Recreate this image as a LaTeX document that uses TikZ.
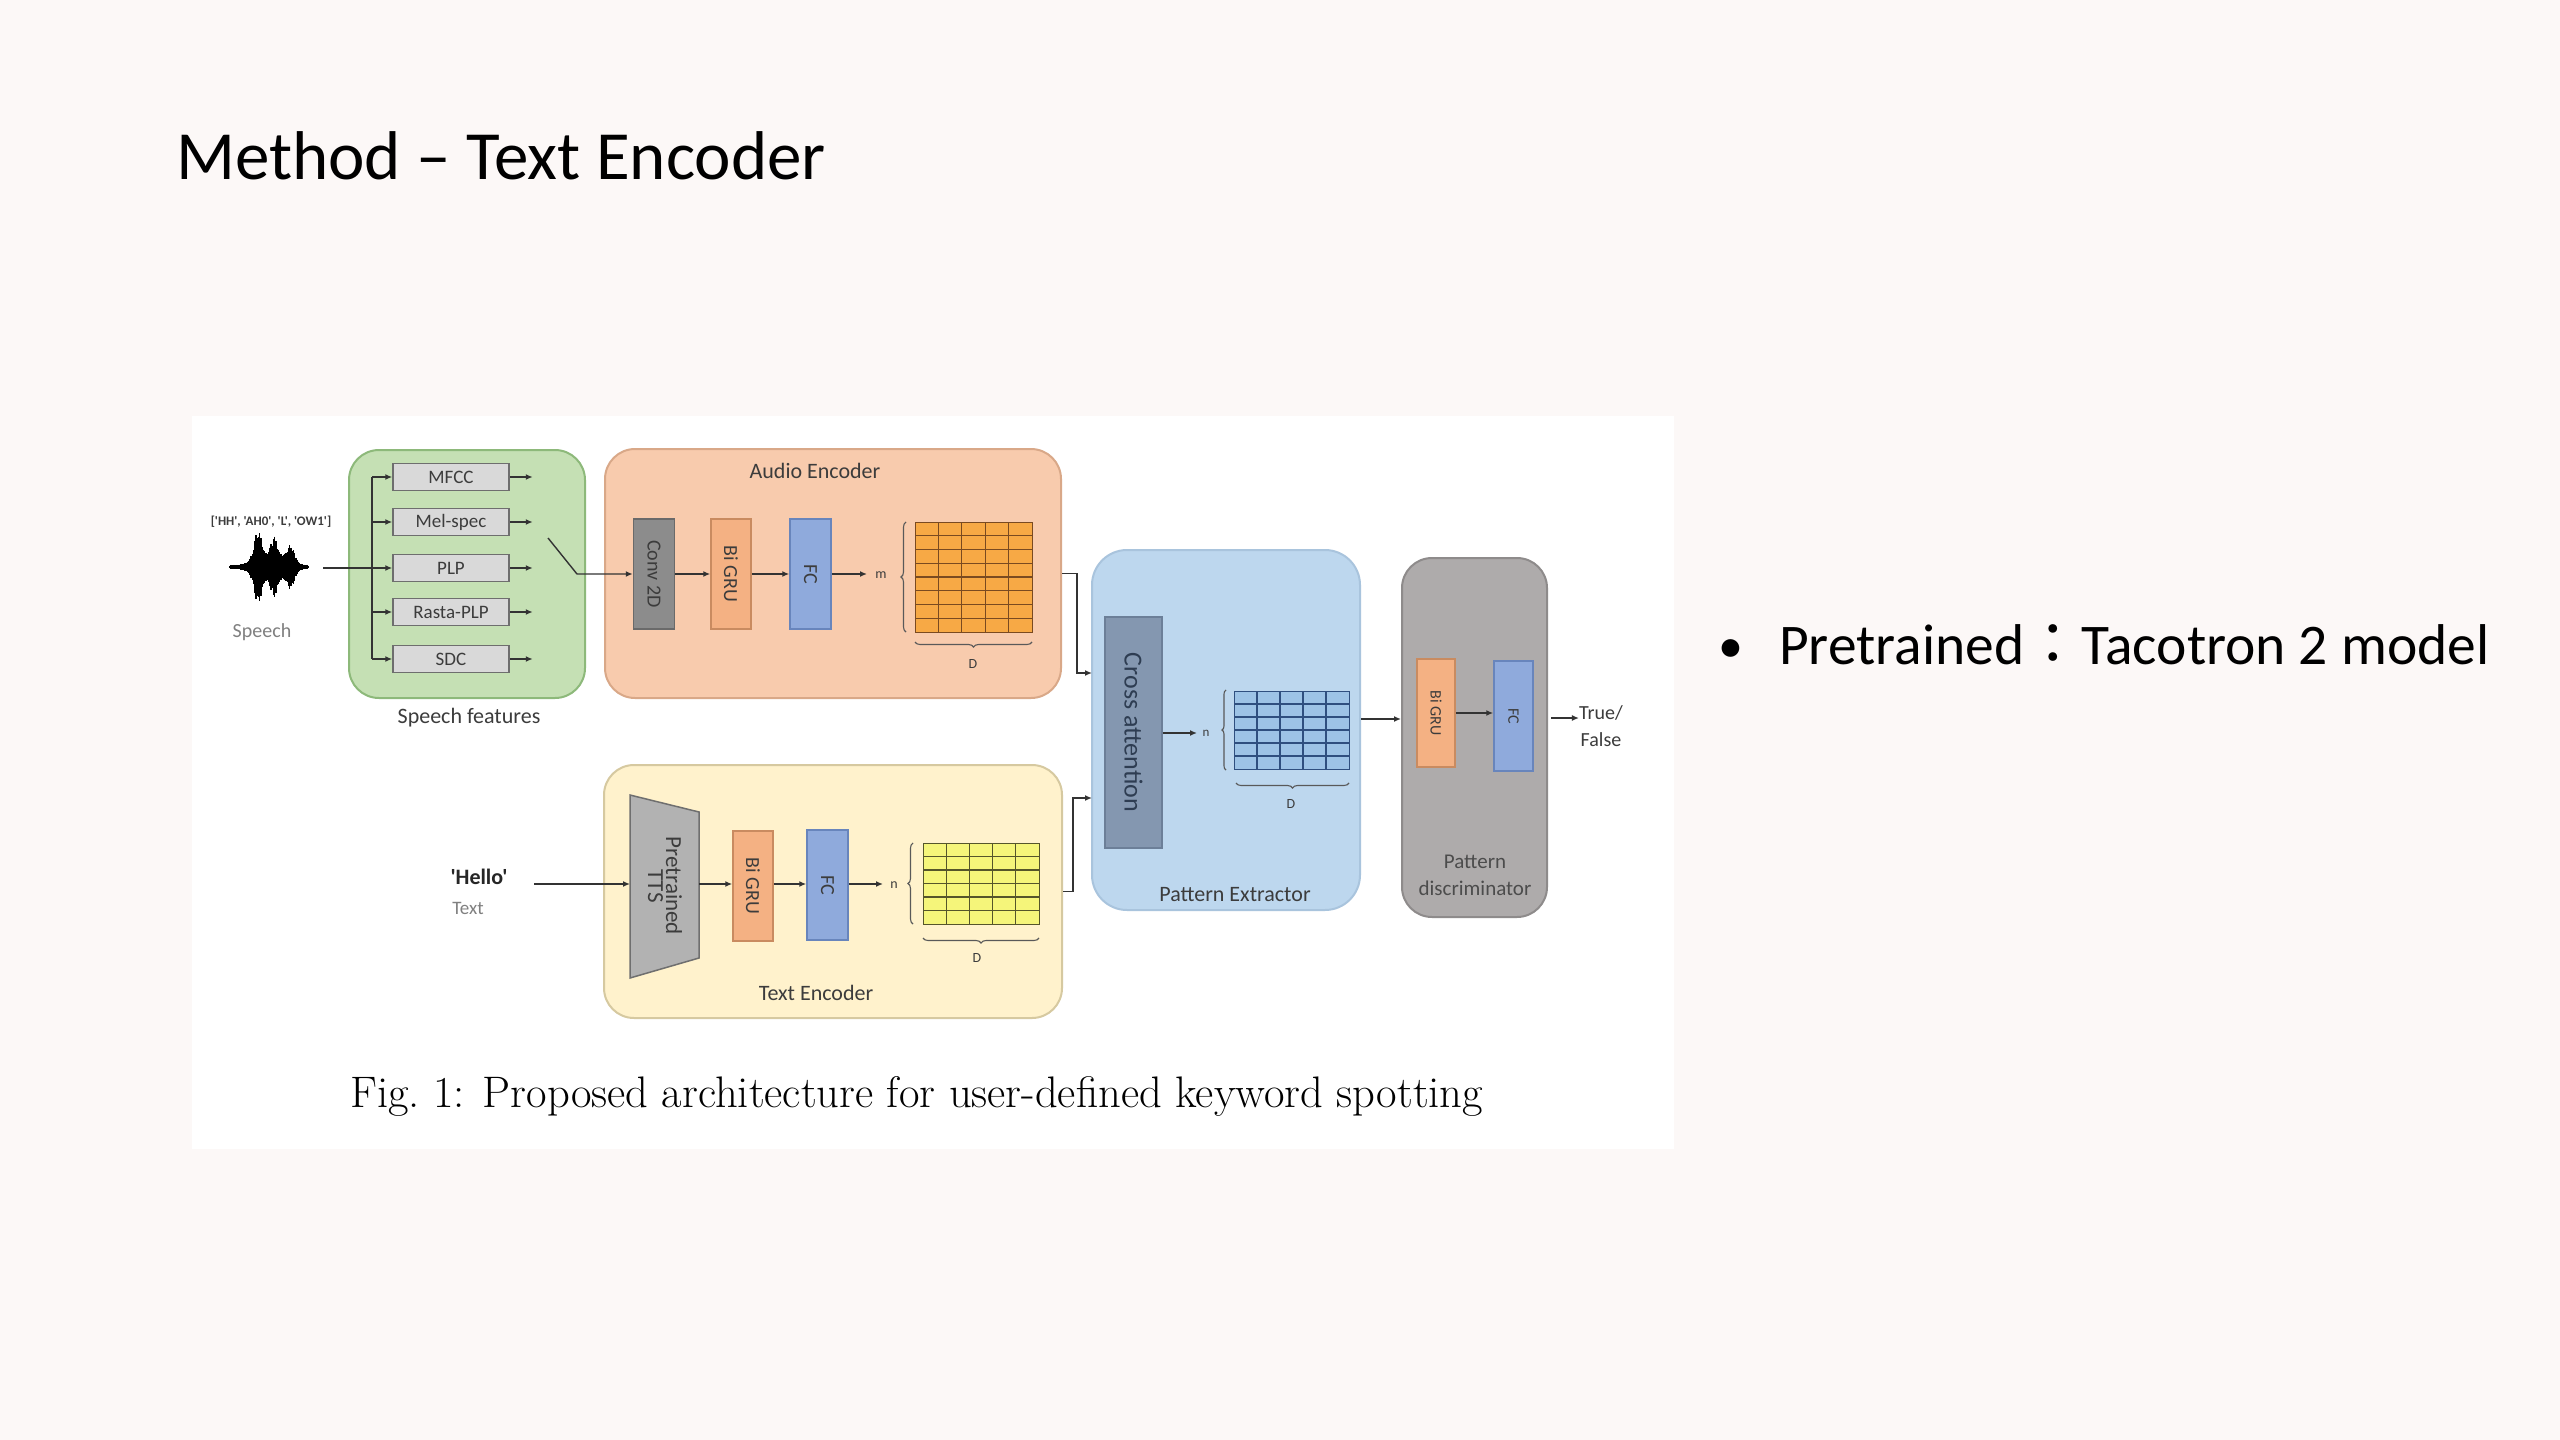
\documentclass[tikz,border=0pt]{standalone}
\usepackage{fontspec}
\usepackage{graphicx}
\newfontfamily\carl{Carlito}
\newfontfamily\cjk{Noto Sans CJK TC}
\usetikzlibrary{arrows.meta,decorations.pathreplacing,calc}
\newcommand\myfs[2]{\fontsize{#1}{#2}\selectfont}
\definecolor{bgc}{HTML}{FCF8F7}
\definecolor{greenF}{HTML}{C5E0B4}
\definecolor{greenD}{HTML}{8DB97A}
\definecolor{featF}{HTML}{D9D9D9}
\definecolor{featD}{HTML}{6E6E6E}
\definecolor{aeF}{HTML}{F8CBAD}
\definecolor{aeD}{HTML}{D9A888}
\definecolor{teF}{HTML}{FFF2CC}
\definecolor{teD}{HTML}{D6C9A0}
\definecolor{peF}{HTML}{BDD7EE}
\definecolor{peD}{HTML}{A9C4DD}
\definecolor{pdF}{HTML}{AEABAB}
\definecolor{pdD}{HTML}{8E8B8B}
\definecolor{convF}{HTML}{8C8C8C}
\definecolor{convD}{HTML}{6A6A6A}
\definecolor{gruF}{HTML}{F4B183}
\definecolor{gruD}{HTML}{C98B60}
\definecolor{fcF}{HTML}{8FAADC}
\definecolor{fcD}{HTML}{6885BC}
\definecolor{caF}{HTML}{8497B0}
\definecolor{caD}{HTML}{6C7F98}
\definecolor{caT}{HTML}{2E3D52}
\definecolor{ttsF}{HTML}{B2B2B2}
\definecolor{ttsD}{HTML}{6F6F6F}
\definecolor{ogF}{HTML}{F7A945}
\definecolor{ogD}{HTML}{7A4A20}
\definecolor{ygF}{HTML}{F5F57A}
\definecolor{ygD}{HTML}{55552A}
\definecolor{bgF}{HTML}{9DC3E6}
\definecolor{bgD}{HTML}{2F4F7F}
\definecolor{txt}{HTML}{3C3C3C}
\definecolor{ltxt}{HTML}{808080}
\begin{document}
\begin{tikzpicture}[x=1pt,y=-1pt,
  group/.style={rounded corners=30pt, line width=2pt, inner sep=0},
  feat/.style={draw=featD, fill=featF, line width=1.5pt, minimum width=116, minimum height=27, inner sep=0, font=\carl\myfs{19}{22}, text=txt},
  blk/.style={line width=1.5pt, inner sep=0, font=\carl\myfs{20}{24}, text=txt},
  lab/.style={inner sep=0, font=\carl\myfs{22}{26}, text=txt},
  sml/.style={inner sep=0, font=\carl\myfs{14}{16}, text=txt},
  arr/.style={-{Latex[length=7pt,width=6pt]}, line width=1.4pt, draw=black!80},
  ln/.style={line width=1.4pt, draw=black!80},
  brc/.style={decorate, decoration={brace, amplitude=5pt}, line width=1.1pt, draw=black!65}
]
\useasboundingbox (0,0) rectangle (2560,1440);
\fill[bgc] (0,0) rectangle (2560,1440);
\fill[white] (192,416) rectangle (1674,1149);

% title and bullet
\node[anchor=base west, inner sep=0, font=\carl\myfs{69}{83}] (title) at (176,179) {Method – Text Encoder};
\node[anchor=base west, inner sep=0, font=\carl\myfs{50}{60}] (bul) at (1718,662) {•};
\node[anchor=base west, inner sep=0, font=\carl\myfs{57.5}{69}] (btxt) at (1779,664) {Pretrained{\cjk ：}Tacotron 2 model};

% caption
\node[anchor=base west, inner sep=0, text=black] (cap) at (350,1107) {\resizebox{1133pt}{31pt}{\myfs{42}{50}Fig.~1: Proposed architecture for user-defined keyword spotting}};

% speech input
\node[inner sep=0, font=\carl\bfseries\myfs{13}{15}, text=txt] (phon) at (271,522) {['HH', 'AH0', 'L', 'OW1']};
\foreach \x in {231,232.25,...,308} {
  \pgfmathsetmacro\ua{abs(\x-258)/5}
  \pgfmathsetmacro\ub{abs(\x-274)/4.5}
  \pgfmathsetmacro\uc{abs(\x-291)/5}
  \pgfmathsetmacro\ud{abs(\x-272)/24}
  \pgfmathsetmacro\a{2+9*exp(-\ud*\ud*\ud*\ud)+(27*exp(-\ua*\ua)+20*exp(-\ub*\ub)+14*exp(-\uc*\uc))*(0.55+0.45*abs(sin(\x*37)))}
  \draw[line width=1.3pt, black] (\x,567-\a) -- (\x,567+\a);
}
\draw[line width=1.2pt, black] (229,567) -- (309,567);
\node[inner sep=0, font=\carl\myfs{20}{24}, text=ltxt] (speech) at (262,632) {Speech};

% speech features
\node[group, draw=greenD, fill=greenF, minimum width=236, minimum height=248] (sf) at (467,574) {};
\node[lab] (sflab) at (469,718) {Speech features};
\node[feat] (mfcc) at (451,477) {MFCC};
\node[feat] (mel) at (451,522) {Mel-spec};
\node[feat] (plp) at (451,568) {PLP};
\node[feat] (rasta) at (451,612) {Rasta-PLP};
\node[feat] (sdc) at (451,659) {SDC};
\coordinate (b1) at (372,477);
\coordinate (b2) at (372,522);
\coordinate (b3) at (372,568);
\coordinate (b4) at (372,612);
\coordinate (b5) at (372,659);
\coordinate (wout) at (323,568);
\draw[ln] (b1) -- (b5);
\draw[arr] (b1) -- (mfcc);
\draw[arr] (b2) -- (mel);
\draw[arr] (wout) -- (plp);
\draw[arr] (b4) -- (rasta);
\draw[arr] (b5) -- (sdc);
\foreach \n in {mfcc,mel,plp,rasta,sdc} \draw[arr] (\n.east) -- ++(23,0);

% audio encoder
\node[group, draw=aeD, fill=aeF, minimum width=456, minimum height=249] (ae) at (833,573.5) {};
\node[lab] (aelab) at (815,471) {Audio Encoder};
\node[blk, draw=convD, fill=convF, minimum width=41, minimum height=110] (conv) at (654,574) {\rotatebox{-90}{Conv 2D}};
\node[blk, draw=gruD, fill=gruF, minimum width=40, minimum height=110] (gru1) at (731,574) {\rotatebox{-90}{Bi GRU}};
\node[blk, draw=fcD, fill=fcF, minimum width=41, minimum height=110] (fc1) at (810.5,574) {\rotatebox{-90}{FC}};
\coordinate (sw1) at (548,538);
\coordinate (sw2) at (577,574);
\draw[arr] (sw1) -- (sw2) -- (conv);
\draw[arr] (conv) -- (gru1);
\draw[arr] (gru1) -- (fc1);
\coordinate (mco) at (867,574);
\draw[arr] (fc1) -- (mco);
\node[sml] (mlab) at (881,575) {m};
\node[draw=ogD, fill=ogF, line width=1.2pt, inner sep=0, minimum width=117, minimum height=110, anchor=north west] (ag) at (915,522) {};
\foreach \i in {1,...,4} \draw[ogD, line width=1.2pt] (915+\i*23.4,522) -- (915+\i*23.4,632);
\foreach \j in {1,...,7} \draw[ogD, line width=1.2pt] (915,522+\j*13.75) -- (1032,522+\j*13.75);
\draw[brc] (906,632) -- (906,522);
\draw[brc] (1032,642) -- (915,642);
\node[sml] (d1) at (973,664) {D};

% text encoder
\node[group, draw=teD, fill=teF, minimum width=458, minimum height=253] (te) at (833,891.5) {};
\node[lab] (telab) at (816,993) {Text Encoder};
\filldraw[fill=ttsF, draw=ttsD, line width=1.5pt] (630,795) -- (699,812) -- (699,958) -- (630,978) -- cycle;
\node[inner sep=0, font=\carl\myfs{23}{26}, text=txt] (tts) at (665,886) {\rotatebox{-90}{\shortstack{Pretrained\\TTS}}};
\coordinate (ttsin) at (630,884);
\coordinate (ttsout) at (699,884);
\node[inner sep=0, font=\carl\bfseries\myfs{22}{26}, text=black!85] (hello) at (479,877) {'Hello'};
\node[inner sep=0, font=\carl\myfs{19}{22}, text=ltxt] (textlab) at (468,908) {Text};
\coordinate (hin) at (534,884);
\draw[arr] (hin) -- (ttsin);
\node[blk, draw=gruD, fill=gruF, minimum width=40, minimum height=110] (gru2) at (753,886) {\rotatebox{-90}{Bi GRU}};
\node[blk, draw=fcD, fill=fcF, minimum width=41, minimum height=110] (fc2) at (827.5,885) {\rotatebox{-90}{FC}};
\draw[arr] (ttsout) -- (ttsout -| gru2.west);
\draw[arr] (gru2.east |- ttsout) -- (ttsout -| fc2.west);
\coordinate (nco) at (883,884);
\draw[arr] (fc2.east |- nco) -- (nco);
\node[sml] (nlab) at (894,885) {n};
\node[draw=ygD, fill=ygF, line width=1.2pt, inner sep=0, minimum width=116, minimum height=81, anchor=north west] (yg) at (923,843) {};
\foreach \i in {1,...,4} \draw[ygD, line width=1.2pt] (923+\i*23.2,843) -- (923+\i*23.2,924);
\foreach \j in {1,...,5} \draw[ygD, line width=1.2pt] (923,843+\j*13.5) -- (1039,843+\j*13.5);
\draw[brc] (913,924) -- (913,843);
\draw[brc] (1039,938) -- (923,938);
\node[sml] (d2) at (977,958) {D};

% pattern extractor
\node[group, rounded corners=35pt, draw=peD, fill=peF, minimum width=268, minimum height=360] (pe) at (1226,730) {};
\node[lab] (pelab) at (1235,895) {Pattern Extractor};
\node[blk, draw=caD, fill=caF, minimum width=57, minimum height=231, font=\carl\myfs{26}{30}, text=caT] (ca) at (1133.5,732.5) {\rotatebox{-90}{Cross attention}};
\coordinate (pin1) at (1092,673);
\coordinate (pin2) at (1092,798);
\draw[arr] (ae.east) -- ++(15,0) |- (pin1);
\draw[arr] (te.east) -- ++(10,0) |- (pin2);
\coordinate (n3co) at (1197,733);
\draw[arr] (ca.east |- n3co) -- (n3co);
\node[sml, font=\carl\myfs{13}{15}] (n3lab) at (1206,733) {n};
\node[draw=bgD, fill=bgF, line width=1.2pt, inner sep=0, minimum width=115, minimum height=78, anchor=north west] (bg) at (1234,691) {};
\foreach \i in {1,...,4} \draw[bgD, line width=1.2pt] (1234+\i*23,691) -- (1234+\i*23,769);
\foreach \j in {1,...,5} \draw[bgD, line width=1.2pt] (1234,691+\j*13) -- (1349,691+\j*13);
\draw[brc, decoration={brace, amplitude=4pt}] (1226,770) -- (1226,690);
\draw[brc] (1349,783) -- (1236,783);
\node[sml] (d3) at (1291,804) {D};

% pattern discriminator
\node[group, draw=pdD, fill=pdF, minimum width=145, minimum height=359] (pd) at (1474.5,737.5) {};
\node[lab, align=center, font=\carl\myfs{21}{27}, text=black!70] (pdlab) at (1475,875) {Pattern\\discriminator};
\node[blk, draw=gruD, fill=gruF, minimum width=38, minimum height=108, font=\carl\myfs{16}{19}] (gru3) at (1436,713) {\rotatebox{-90}{Bi GRU}};
\node[blk, draw=fcD, fill=fcF, minimum width=39, minimum height=110, font=\carl\myfs{16}{19}] (fc3) at (1513.5,716) {\rotatebox{-90}{FC}};
\coordinate (peo) at (1361,719);
\draw[arr] (peo) -- (peo -| pd.west);
\draw[arr] (gru3.east) -- (gru3.east -| fc3.west);
\node[inner sep=0, align=center, font=\carl\myfs{20}{27}, text=txt] (tf) at (1601,726) {True/\\False};
\coordinate (pdo) at (1551,718);
\draw[arr] (pdo) -- (tf.west |- pdo);
\end{tikzpicture}
\end{document}
